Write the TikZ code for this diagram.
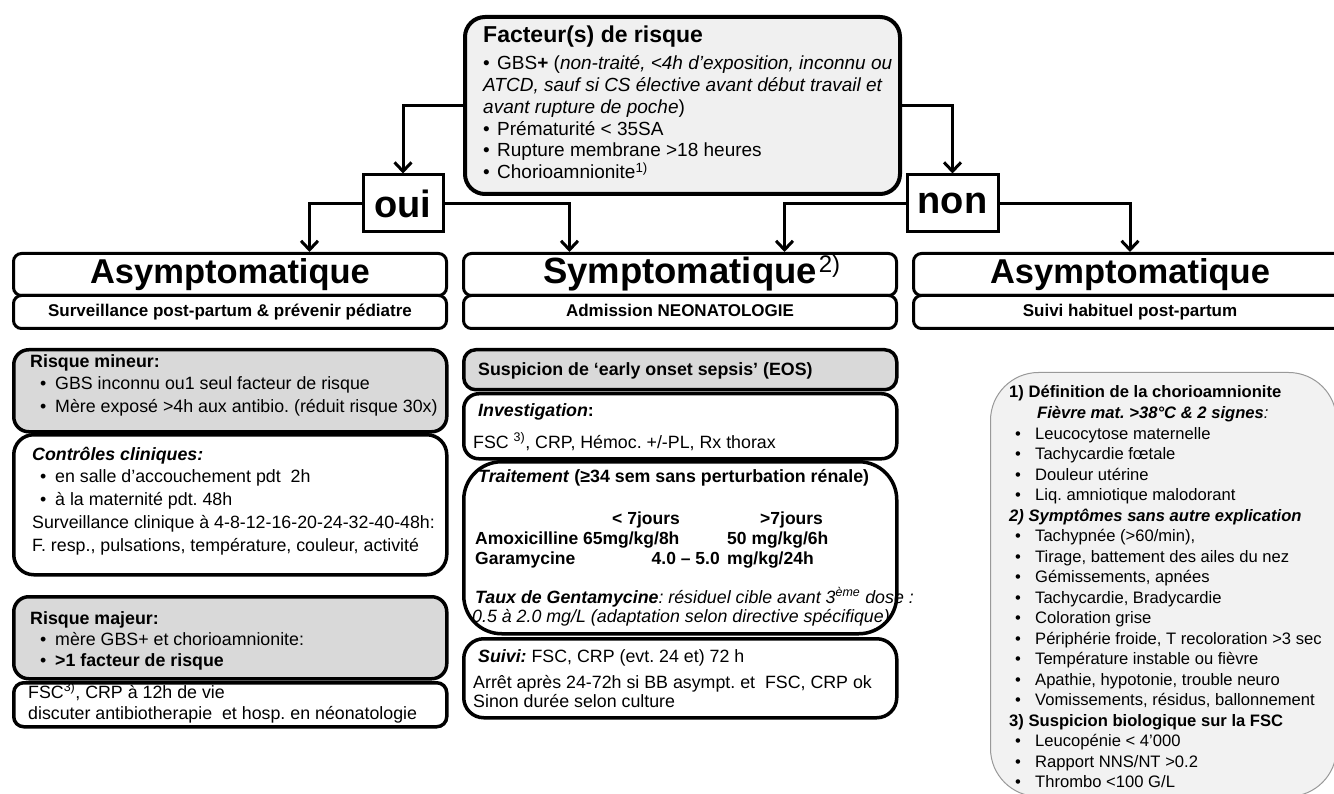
\documentclass[tikz,border=0pt]{standalone}
\usepackage{fontspec}
\setmainfont{Liberation Sans}
\usetikzlibrary{arrows.meta,positioning,shadows}
\newcommand{\fs}[1]{\fontsize{#1}{#1}\selectfont}
\newcommand{\blt}[1][15pt]{\makebox[#1][l]{\textbullet}}
\frenchspacing

\begin{document}
\begin{tikzpicture}
	[x=1pt,y=-1pt,
	txt/.style={anchor=base west,inner sep=0pt,font=\fs{17.8}},
	legtxt/.style={anchor=base west,inner sep=0pt,font=\fs{16.6}},
	topbox/.style={draw=black,line width=4pt,fill=black!6,rounded corners=20pt,anchor=north west,
		drop shadow={shadow xshift=1.5pt,shadow yshift=-1.5pt,opacity=0.35}},
	choice/.style={draw=black,line width=3pt,fill=white,inner sep=0pt,font=\bfseries\fs{38}},
	headbox/.style={draw=black,line width=3pt,fill=white,rounded corners=8pt,
		minimum width=433pt,inner sep=0pt,anchor=north west},
	headbig/.style={headbox,minimum height=42pt,text height=25pt,text depth=7pt},
	headsub/.style={headbox,minimum height=33pt,text height=12.5pt,text depth=3.5pt,font=\bfseries\fs{17}},
	greybox/.style={draw=black,line width=3.5pt,fill=black!15,anchor=north west,minimum width=433pt},
	whitebox/.style={draw=black,line width=3.5pt,fill=white,anchor=north west,minimum width=433pt},
	legendbox/.style={draw=black!40,line width=1pt,fill=black!5,rounded corners=48pt,anchor=north west},
	flow/.style={line width=3pt,-{Straight Barb[length=9pt,width=17pt]}}]
	\fill[white] (0,0) rectangle (1334,794);
	\useasboundingbox (0,0) rectangle (1334,794);
	%facteurs de risque
	\node[topbox,minimum width=435pt,minimum height=177pt] (risque) at (463,15) {};
	\node[txt,font=\bfseries\fs{23}] (risque1) at (483,43) {Facteur(s) de risque};
	\foreach \yy/\lbl [count=\i from 2] in {
		69.7/{\blt[14pt]GBS\textbf{+} (\textit{non-traité, <4h d’exposition, inconnu ou}},
		91.5/{\textit{ATCD, sauf si CS élective avant début travail et}},
		113.3/{\textit{avant rupture de poche})},
		135.1/{\blt[14pt]Prématurité < 35SA},
		156.9/{\blt[14pt]Rupture membrane >18 heures},
		178.7/{\blt[14pt]Chorioamnionite\textsuperscript{1)}}}
		\node[txt,font=\fs{19}] (risque\i) at (483,\yy) {\lbl};
	%oui / non
	\node[choice,minimum width=80pt,minimum height=57pt] (oui) at (403,203.5) {oui};
	\node[choice,minimum width=91pt,minimum height=57pt] (non) at (952.5,203.5) {non};
	%colonnes
	\node[headbig,font=\bfseries\fs{34.5}] (asymL) at (12,252) {Asymptomatique};
	\node[headsub] (asymLsub) at (12,294) {Surveillance post-partum \& prévenir pédiatre};
	\node[headbig,font=\bfseries\fs{36.5}] (symp) at (462,252)
		{Symptomatique\rlap{\smash{\hspace{2pt}\raisebox{11pt}{\mdseries\fs{24}2)}}}};
	\node[headsub] (sympsub) at (462,294) {Admission NEONATOLOGIE};
	\node[headbig,font=\bfseries\fs{34.5}] (asymR) at (912,252) {Asymptomatique};
	\node[headsub] (asymRsub) at (912,294) {Suivi habituel post-partum};
	%fleches
	\draw[flow] (risque.west) -| (oui.north);
	\draw[flow] (risque.east) -| (non.north);
	\draw[flow] (oui.west) -| ([xshift=79.5pt]asymL.north);
	\draw[flow] (oui.east) -| ([xshift=-110.5pt]symp.north);
	\draw[flow] (non.west) -| ([xshift=104.5pt]symp.north);
	\draw[flow] (non.east) -| (asymR.north);
	%colonne gauche
	\node[greybox,minimum height=82pt,rounded corners=15pt] (mineur) at (12,348) {};
	\node[whitebox,minimum height=140pt,rounded corners=20pt] (controles) at (12,433) {};
	\node[greybox,minimum height=82pt,rounded corners=15pt] (majeur) at (12,595) {};
	\node[whitebox,minimum height=44pt,rounded corners=10pt] (fscbox) at (12,681) {};
	\foreach \xx/\yy/\lbl [count=\i] in {
		30/368/{\textbf{Risque mineur:}},
		40/390/{\blt GBS inconnu ou1 seul facteur de risque},
		40/412/{\blt Mère exposé >4h aux antibio. (réduit risque 30x)}}
		\node[txt] (mineur\i) at (\xx,\yy) {\lbl};
	\foreach \xx/\yy/\lbl [count=\i] in {
		32/460/{\textbf{\textit{Contrôles cliniques:}}},
		40/482/{\blt en salle d’accouchement pdt\ \ 2h},
		40/505/{\blt à la maternité pdt. 48h},
		32/528/{Surveillance clinique à 4-8-12-16-20-24-32-40-48h:},
		32/551/{F. resp., pulsations, température, couleur, activité}}
		\node[txt] (controles\i) at (\xx,\yy) {\lbl};
	\foreach \xx/\yy/\lbl [count=\i] in {
		30/624/{\textbf{Risque majeur:}},
		40/645/{\blt mère GBS+ et chorioamnionite:},
		40/666/{\blt\textbf{>1 facteur de risque}}}
		\node[txt] (majeur\i) at (\xx,\yy) {\lbl};
	\node[txt] (fsc1) at (28,698) {FSC\textsuperscript{3)}, CRP à 12h de vie};
	\node[txt] (fsc2) at (28,719) {discuter antibiotherapie\ \ et hosp. en néonatologie};
	%colonne centrale
	\node[greybox,minimum height=40pt,rounded corners=12pt] (eos) at (462,348) {};
	\node[whitebox,minimum height=65pt,rounded corners=15pt] (invest) at (462,392) {};
	\node[whitebox,minimum height=172pt,rounded corners=38pt] (traitement) at (462,460) {};
	\node[whitebox,minimum height=79pt,rounded corners=20pt] (suivi) at (462,637) {};
	\node[txt] (eos1) at (478,376) {\textbf{Suspicion de ‘early onset sepsis’ (EOS)}};
	\node[txt] (invest1) at (478,417) {\textbf{\textit{Investigation}:}};
	\node[txt] (invest2) at (473,448) {FSC \textsuperscript{3)}, CRP, Hémoc. +/-PL, Rx thorax};
	\node[txt] (trait1) at (478,482) {\textbf{\textit{Traitement} (≥34 sem sans perturbation rénale)}};
	\foreach \xx/\yy/\lbl [count=\i] in {
		612/524/{< 7jours}, 760/524/{>7jours},
		475/544/{Amoxicilline 65mg/kg/8h}, 727/544/{50 mg/kg/6h},
		475/564/{Garamycine}, 727/564/{mg/kg/24h}}
		\node[txt,font=\bfseries\fs{17.5}] (dose\i) at (\xx,\yy) {\lbl};
	\node[txt,anchor=base east,font=\bfseries\fs{17.5}] (dose7) at (720,564) {4.0 – 5.0};
	\node[txt] (trait2) at (475,603) {\textbf{\textit{Taux de Gentamycine}}\textit{: résiduel cible avant 3\textsuperscript{ème} dose :}};
	\node[txt] (trait3) at (472,622) {\textit{0.5 à 2.0 mg/L (adaptation selon directive spécifique)}};
	\node[txt] (suivi1) at (478,662) {\textbf{\textit{Suivi:}} FSC, CRP (evt. 24 et) 72 h};
	\node[txt] (suivi2) at (473,688) {Arrêt après 24-72h si BB asympt. et\ \ FSC, CRP ok};
	\node[txt] (suivi3) at (473,707) {Sinon durée selon culture};
	%legende
	\node[legendbox,minimum width=346pt,minimum height=424pt] (legende) at (990,372) {};
	\foreach \xx/\lbl [count=\i] in {
		1009/{\textbf{1) Définition de la chorioamnionite}},
		1037/{\textbf{\textit{Fièvre mat. >38°C \& 2 signes}}\textit{:}},
		1015/{\blt[20pt]Leucocytose maternelle},
		1015/{\blt[20pt]Tachycardie fœtale},
		1015/{\blt[20pt]Douleur utérine},
		1015/{\blt[20pt]Liq. amniotique malodorant},
		1009/{\textbf{\textit{2) Symptômes sans autre explication}}},
		1015/{\blt[20pt]Tachypnée (>60/min),},
		1015/{\blt[20pt]Tirage, battement des ailes du nez},
		1015/{\blt[20pt]Gémissements, apnées},
		1015/{\blt[20pt]Tachycardie, Bradycardie},
		1015/{\blt[20pt]Coloration grise},
		1015/{\blt[20pt]Périphérie froide, T recoloration >3 sec},
		1015/{\blt[20pt]Température instable ou fièvre},
		1015/{\blt[20pt]Apathie, hypotonie, trouble neuro},
		1015/{\blt[20pt]Vomissements, résidus, ballonnement},
		1009/{\textbf{3) Suspicion biologique sur la FSC}},
		1015/{\blt[20pt]Leucopénie < 4’000},
		1015/{\blt[20pt]Rapport NNS/NT >0.2},
		1015/{\blt[20pt]Thrombo <100 G/L}}
		\node[legtxt] (leg\i) at (\xx,{398+(\i-1)*20.5}) {\lbl};
\end{tikzpicture}
\end{document}
